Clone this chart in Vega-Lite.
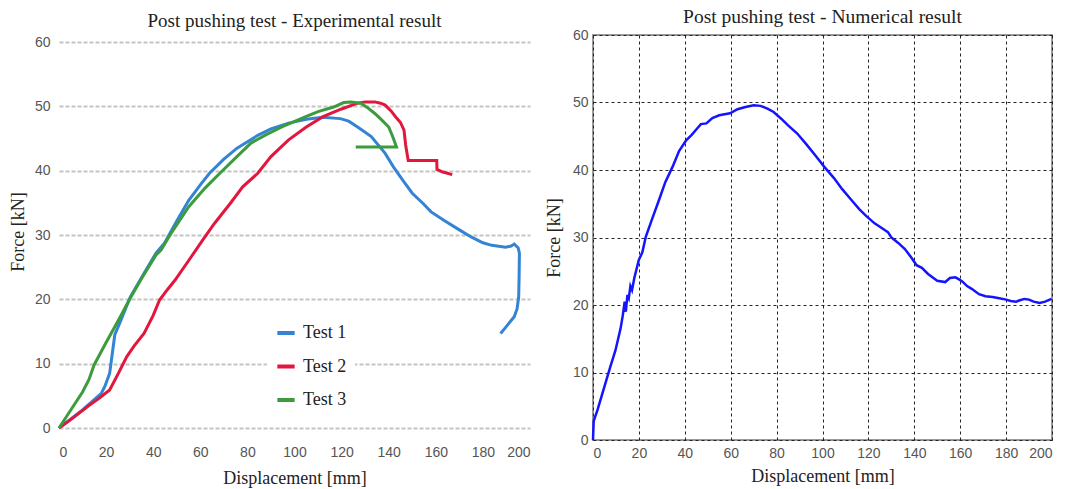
{
  "$schema": "https://vega.github.io/schema/vega-lite/v6.json",
  "background": "white",
  "padding": {"left": 9, "top": 5, "right": 5, "bottom": 5},
  "bounds": "flush",
  "spacing": 63,
  "config": {"view": {"stroke": null}, "font": "Liberation Serif"},
  "datasets": {
    "exp": [
      {"test": "Test 1", "i": 1, "d": 0, "f": 0},
      {"test": "Test 1", "i": 2, "d": 10, "f": 2.8},
      {"test": "Test 1", "i": 3, "d": 18, "f": 5.4},
      {"test": "Test 1", "i": 4, "d": 19.5, "f": 6.5},
      {"test": "Test 1", "i": 5, "d": 21.5, "f": 8.5},
      {"test": "Test 1", "i": 6, "d": 23.7, "f": 14.5},
      {"test": "Test 1", "i": 7, "d": 26, "f": 16.5},
      {"test": "Test 1", "i": 8, "d": 30.3, "f": 20.4},
      {"test": "Test 1", "i": 9, "d": 36, "f": 24},
      {"test": "Test 1", "i": 10, "d": 41.2, "f": 27.2},
      {"test": "Test 1", "i": 11, "d": 44.9, "f": 28.8},
      {"test": "Test 1", "i": 12, "d": 50, "f": 32.2},
      {"test": "Test 1", "i": 13, "d": 55.1, "f": 35.4},
      {"test": "Test 1", "i": 14, "d": 60, "f": 37.8},
      {"test": "Test 1", "i": 15, "d": 63.9, "f": 39.6},
      {"test": "Test 1", "i": 16, "d": 70, "f": 41.8},
      {"test": "Test 1", "i": 17, "d": 75.6, "f": 43.5},
      {"test": "Test 1", "i": 18, "d": 84.4, "f": 45.5},
      {"test": "Test 1", "i": 19, "d": 90, "f": 46.5},
      {"test": "Test 1", "i": 20, "d": 97.5, "f": 47.4},
      {"test": "Test 1", "i": 21, "d": 105, "f": 48},
      {"test": "Test 1", "i": 22, "d": 112.1, "f": 48.3},
      {"test": "Test 1", "i": 23, "d": 119.5, "f": 48.1},
      {"test": "Test 1", "i": 24, "d": 123, "f": 47.7},
      {"test": "Test 1", "i": 25, "d": 126.8, "f": 46.8},
      {"test": "Test 1", "i": 26, "d": 132.6, "f": 45.3},
      {"test": "Test 1", "i": 27, "d": 138.5, "f": 42.7},
      {"test": "Test 1", "i": 28, "d": 142, "f": 40.6},
      {"test": "Test 1", "i": 29, "d": 145.8, "f": 38.6},
      {"test": "Test 1", "i": 30, "d": 150, "f": 36.5},
      {"test": "Test 1", "i": 31, "d": 154.6, "f": 34.9},
      {"test": "Test 1", "i": 32, "d": 158, "f": 33.6},
      {"test": "Test 1", "i": 33, "d": 163.4, "f": 32.3},
      {"test": "Test 1", "i": 34, "d": 170, "f": 30.8},
      {"test": "Test 1", "i": 35, "d": 175, "f": 29.7},
      {"test": "Test 1", "i": 36, "d": 180, "f": 28.8},
      {"test": "Test 1", "i": 37, "d": 183.8, "f": 28.4},
      {"test": "Test 1", "i": 38, "d": 189.6, "f": 28.1},
      {"test": "Test 1", "i": 39, "d": 192, "f": 28.3},
      {"test": "Test 1", "i": 40, "d": 193.3, "f": 28.6},
      {"test": "Test 1", "i": 41, "d": 195, "f": 28},
      {"test": "Test 1", "i": 42, "d": 195.5, "f": 27.2},
      {"test": "Test 1", "i": 43, "d": 195.4, "f": 24},
      {"test": "Test 1", "i": 44, "d": 195.2, "f": 20.4},
      {"test": "Test 1", "i": 45, "d": 194.5, "f": 18.5},
      {"test": "Test 1", "i": 46, "d": 193.3, "f": 17.3},
      {"test": "Test 1", "i": 47, "d": 190, "f": 15.8},
      {"test": "Test 1", "i": 48, "d": 187.5, "f": 14.7},
      {"test": "Test 2", "i": 1, "d": 0, "f": 0},
      {"test": "Test 2", "i": 2, "d": 5, "f": 1.3},
      {"test": "Test 2", "i": 3, "d": 12.7, "f": 3.5},
      {"test": "Test 2", "i": 4, "d": 17, "f": 4.6},
      {"test": "Test 2", "i": 5, "d": 21.5, "f": 5.9},
      {"test": "Test 2", "i": 6, "d": 25.2, "f": 8.5},
      {"test": "Test 2", "i": 7, "d": 28.8, "f": 11.1},
      {"test": "Test 2", "i": 8, "d": 32, "f": 12.8},
      {"test": "Test 2", "i": 9, "d": 36.1, "f": 14.7},
      {"test": "Test 2", "i": 10, "d": 40, "f": 17.5},
      {"test": "Test 2", "i": 11, "d": 42.7, "f": 19.9},
      {"test": "Test 2", "i": 12, "d": 46, "f": 21.5},
      {"test": "Test 2", "i": 13, "d": 49.3, "f": 23},
      {"test": "Test 2", "i": 14, "d": 55, "f": 26},
      {"test": "Test 2", "i": 15, "d": 61, "f": 29.2},
      {"test": "Test 2", "i": 16, "d": 66, "f": 31.8},
      {"test": "Test 2", "i": 17, "d": 72.7, "f": 34.9},
      {"test": "Test 2", "i": 18, "d": 78, "f": 37.5},
      {"test": "Test 2", "i": 19, "d": 84.4, "f": 39.6},
      {"test": "Test 2", "i": 20, "d": 90, "f": 42.2},
      {"test": "Test 2", "i": 21, "d": 97.5, "f": 44.8},
      {"test": "Test 2", "i": 22, "d": 105, "f": 46.8},
      {"test": "Test 2", "i": 23, "d": 112.1, "f": 48.4},
      {"test": "Test 2", "i": 24, "d": 120, "f": 49.6},
      {"test": "Test 2", "i": 25, "d": 126.8, "f": 50.5},
      {"test": "Test 2", "i": 26, "d": 130, "f": 50.7},
      {"test": "Test 2", "i": 27, "d": 134.1, "f": 50.7},
      {"test": "Test 2", "i": 28, "d": 136.5, "f": 50.5},
      {"test": "Test 2", "i": 29, "d": 138.5, "f": 50.2},
      {"test": "Test 2", "i": 30, "d": 141, "f": 49.3},
      {"test": "Test 2", "i": 31, "d": 142.9, "f": 48.4},
      {"test": "Test 2", "i": 32, "d": 145, "f": 47.5},
      {"test": "Test 2", "i": 33, "d": 146.5, "f": 46.3},
      {"test": "Test 2", "i": 34, "d": 147.2, "f": 44},
      {"test": "Test 2", "i": 35, "d": 148, "f": 42.2},
      {"test": "Test 2", "i": 36, "d": 148.3, "f": 41.6},
      {"test": "Test 2", "i": 37, "d": 152, "f": 41.6},
      {"test": "Test 2", "i": 38, "d": 160.4, "f": 41.6},
      {"test": "Test 2", "i": 39, "d": 160.5, "f": 40.2},
      {"test": "Test 2", "i": 40, "d": 163, "f": 39.8},
      {"test": "Test 2", "i": 41, "d": 167, "f": 39.4},
      {"test": "Test 3", "i": 1, "d": 0, "f": 0},
      {"test": "Test 3", "i": 2, "d": 5, "f": 2.8},
      {"test": "Test 3", "i": 3, "d": 10, "f": 5.6},
      {"test": "Test 3", "i": 4, "d": 12.7, "f": 7.5},
      {"test": "Test 3", "i": 5, "d": 14.9, "f": 9.8},
      {"test": "Test 3", "i": 6, "d": 20, "f": 13.3},
      {"test": "Test 3", "i": 7, "d": 25, "f": 16.6},
      {"test": "Test 3", "i": 8, "d": 30.3, "f": 20.2},
      {"test": "Test 3", "i": 9, "d": 35, "f": 23.2},
      {"test": "Test 3", "i": 10, "d": 41.2, "f": 26.9},
      {"test": "Test 3", "i": 11, "d": 43.4, "f": 27.7},
      {"test": "Test 3", "i": 12, "d": 48, "f": 30.5},
      {"test": "Test 3", "i": 13, "d": 55.1, "f": 34.4},
      {"test": "Test 3", "i": 14, "d": 62, "f": 37.3},
      {"test": "Test 3", "i": 15, "d": 68.3, "f": 39.6},
      {"test": "Test 3", "i": 16, "d": 75, "f": 42},
      {"test": "Test 3", "i": 17, "d": 81.5, "f": 44.3},
      {"test": "Test 3", "i": 18, "d": 88, "f": 45.6},
      {"test": "Test 3", "i": 19, "d": 94.6, "f": 46.8},
      {"test": "Test 3", "i": 20, "d": 104.8, "f": 48.4},
      {"test": "Test 3", "i": 21, "d": 110, "f": 49.2},
      {"test": "Test 3", "i": 22, "d": 116.6, "f": 49.9},
      {"test": "Test 3", "i": 23, "d": 120.9, "f": 50.6},
      {"test": "Test 3", "i": 24, "d": 124, "f": 50.7},
      {"test": "Test 3", "i": 25, "d": 128.2, "f": 50.5},
      {"test": "Test 3", "i": 26, "d": 131, "f": 49.8},
      {"test": "Test 3", "i": 27, "d": 134.1, "f": 48.9},
      {"test": "Test 3", "i": 28, "d": 137, "f": 47.9},
      {"test": "Test 3", "i": 29, "d": 140, "f": 46.8},
      {"test": "Test 3", "i": 30, "d": 141.8, "f": 45.2},
      {"test": "Test 3", "i": 31, "d": 143.3, "f": 43.7},
      {"test": "Test 3", "i": 32, "d": 126, "f": 43.7}
    ],
    "num": [
      {"d": 0, "f": 0}, {"d": 0.3, "f": 2.8}, {"d": 2, "f": 4.5}, {"d": 5.4, "f": 8.4},
      {"d": 7.5, "f": 10.8}, {"d": 9.8, "f": 13.3}, {"d": 12, "f": 16.5}, {"d": 13, "f": 18.5},
      {"d": 13.8, "f": 20.5}, {"d": 14.3, "f": 19}, {"d": 15, "f": 21.5}, {"d": 15.6, "f": 21},
      {"d": 16.3, "f": 22.8}, {"d": 17, "f": 22.2}, {"d": 18, "f": 24}, {"d": 20, "f": 26.7},
      {"d": 21.5, "f": 27.8}, {"d": 23, "f": 30.1}, {"d": 25.5, "f": 32.5}, {"d": 28.8, "f": 35.6},
      {"d": 31.5, "f": 38.2}, {"d": 34.7, "f": 40.5}, {"d": 37.5, "f": 42.8}, {"d": 40.6, "f": 44.4},
      {"d": 43, "f": 45.2}, {"d": 45, "f": 46}, {"d": 47, "f": 46.8}, {"d": 49.4, "f": 46.9},
      {"d": 52, "f": 47.7}, {"d": 55, "f": 48.1}, {"d": 59.7, "f": 48.4}, {"d": 63, "f": 49},
      {"d": 66, "f": 49.3}, {"d": 70, "f": 49.6}, {"d": 73, "f": 49.5}, {"d": 76, "f": 49.1},
      {"d": 78.7, "f": 48.6}, {"d": 82, "f": 47.6}, {"d": 85, "f": 46.6}, {"d": 89, "f": 45.4},
      {"d": 93, "f": 43.8}, {"d": 97, "f": 42.1}, {"d": 100.7, "f": 40.5}, {"d": 105, "f": 38.8},
      {"d": 108.5, "f": 37.2}, {"d": 112.5, "f": 35.6}, {"d": 116, "f": 34.2}, {"d": 119, "f": 33.2},
      {"d": 122.7, "f": 32.1}, {"d": 125, "f": 31.6}, {"d": 127.1, "f": 31.1}, {"d": 128.5, "f": 30.8},
      {"d": 130, "f": 30}, {"d": 133, "f": 29.2}, {"d": 135.9, "f": 28.3}, {"d": 139, "f": 26.9},
      {"d": 141, "f": 25.9}, {"d": 143.3, "f": 25.5}, {"d": 146, "f": 24.6}, {"d": 150, "f": 23.6},
      {"d": 153.5, "f": 23.4}, {"d": 155.5, "f": 24}, {"d": 157.9, "f": 24.1}, {"d": 159.5, "f": 23.8},
      {"d": 160.9, "f": 23.5}, {"d": 163, "f": 22.8}, {"d": 165, "f": 22.4}, {"d": 168.2, "f": 21.6},
      {"d": 171, "f": 21.3}, {"d": 174.1, "f": 21.2}, {"d": 177, "f": 21}, {"d": 180, "f": 20.8},
      {"d": 182, "f": 20.6}, {"d": 184.4, "f": 20.5}, {"d": 186, "f": 20.7}, {"d": 188, "f": 20.9},
      {"d": 190, "f": 20.8}, {"d": 192, "f": 20.5}, {"d": 194.6, "f": 20.3}, {"d": 197, "f": 20.5},
      {"d": 199.8, "f": 20.9}
    ]
  },
  "hconcat": [
    {
      "width": 471,
      "height": 393,
      "title": {"text": "Post pushing test - Experimental result", "font": "Liberation Serif", "fontSize": 19, "fontWeight": "normal", "color": "#222", "offset": 4},
      "layer": [
        {
          "mark": {"type": "rule", "color": "#bbbbbb", "strokeWidth": 2, "strokeDash": [3, 2]},
          "encoding": {
            "x": {"datum": 0, "type": "quantitative"},
            "y": {"datum": 0, "type": "quantitative"},
            "y2": {"datum": 60}
          }
        },
        {
          "data": {"name": "exp"},
          "mark": {"type": "line", "strokeWidth": 3},
          "encoding": {
            "x": {"field": "d", "type": "quantitative", "scale": {"domain": [0, 200], "nice": false},
              "axis": {"values": [0, 20, 40, 60, 80, 100, 120, 140, 160, 180, 200], "title": "Displacement [mm]", "grid": false, "domain": false, "ticks": false,
                "labelFont": "Liberation Sans", "labelFontSize": 14, "labelColor": "#555", "labelPadding": 17,
                "titleFont": "Liberation Serif", "titleFontSize": 18, "titleFontWeight": "normal", "titleColor": "#222", "titlePadding": 10}},
            "y": {"field": "f", "type": "quantitative", "scale": {"domain": [0, 61.1], "nice": false},
              "axis": {"values": [0, 10, 20, 30, 40, 50, 60], "title": "Force [kN]", "grid": true, "gridColor": "#c4c4c4", "gridWidth": 2, "gridDash": [4, 2], "domain": false, "ticks": false,
                "labelFont": "Liberation Sans", "labelFontSize": 14, "labelColor": "#555", "labelPadding": 9,
                "titleFont": "Liberation Serif", "titleFontSize": 18, "titleFontWeight": "normal", "titleColor": "#222", "titlePadding": 7}},
            "color": {"field": "test", "type": "nominal",
              "scale": {"domain": ["Test 1", "Test 2", "Test 3"], "range": ["#3384d4", "#e3173e", "#3c9b3c"]},
              "legend": {"orient": "none", "legendX": 208, "legendY": 279, "title": null, "symbolType": "stroke", "symbolStrokeWidth": 4, "symbolSize": 300,
                "labelFont": "Liberation Serif", "labelFontSize": 18, "labelColor": "#222", "rowPadding": 13.5, "fillColor": "white", "padding": 8, "labelOffset": 6}},
            "order": {"field": "i", "type": "quantitative"}
          }
        }
      ]
    },
    {
      "width": 459,
      "height": 405,
      "view": {"stroke": "#999999", "strokeWidth": 2},
      "title": {"text": "Post pushing test - Numerical result", "font": "Liberation Serif", "fontSize": 19.5, "fontWeight": "normal", "color": "#222", "offset": 1},
      "data": {"name": "num"},
      "mark": {"type": "line", "color": "#1414ff", "strokeWidth": 2.5},
      "encoding": {
        "x": {"field": "d", "type": "quantitative", "scale": {"domain": [0, 200], "nice": false},
          "axis": {"values": [0, 20, 40, 60, 80, 100, 120, 140, 160, 180, 200], "title": "Displacement [mm]", "grid": true, "gridColor": "#222", "gridDash": [3, 3], "gridWidth": 1, "domain": false, "ticks": false,
            "labelFont": "Liberation Sans", "labelFontSize": 14, "labelColor": "#555", "labelPadding": 6,
            "titleFont": "Liberation Serif", "titleFontSize": 18, "titleFontWeight": "normal", "titleColor": "#222", "titlePadding": 7}},
        "y": {"field": "f", "type": "quantitative", "scale": {"domain": [0, 60], "nice": false},
          "axis": {"values": [0, 10, 20, 30, 40, 50, 60], "title": "Force [kN]", "grid": true, "gridColor": "#222", "gridDash": [3, 3], "gridWidth": 1, "domain": false, "ticks": false,
            "labelFont": "Liberation Sans", "labelFontSize": 14, "labelColor": "#555", "labelPadding": 5,
            "titleFont": "Liberation Serif", "titleFontSize": 18, "titleFontWeight": "normal", "titleColor": "#222", "titlePadding": 9}},
        "order": {"field": "d", "type": "quantitative"}
      }
    }
  ]
}
